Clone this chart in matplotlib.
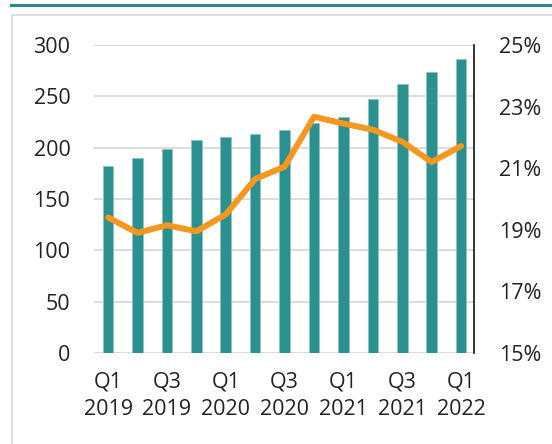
import numpy as np
import matplotlib.pyplot as plt
from matplotlib.patches import Rectangle
from matplotlib.lines import Line2D

plt.rcParams['font.family'] = ['Open Sans', 'DejaVu Sans']

quarters = ["Q1\n2019", "Q2\n2019", "Q3\n2019", "Q4\n2019",
            "Q1\n2020", "Q2\n2020", "Q3\n2020", "Q4\n2020",
            "Q1\n2021", "Q2\n2021", "Q3\n2021", "Q4\n2021",
            "Q1\n2022"]
bar_values = [182, 190, 199, 207, 210, 213, 217, 224, 230, 247, 262, 274, 286]
pct_values = [19.4, 18.9, 19.15, 18.95, 19.5, 20.65, 21.05, 22.67, 22.45, 22.25, 21.86, 21.2, 21.72]

teal = "#2a9090"
orange = "#f7971e"

fig = plt.figure(figsize=(5.52, 4.44), dpi=100)

# panel decoration
fig.add_artist(Line2D([11 / 552, 1], [1 - 5 / 444, 1 - 5 / 444], color="#2a8a8a", lw=2.2))
fig.add_artist(Rectangle((12 / 552, -0.1), 1.2, (1 - 15 / 444) + 0.1,
                         fill=False, edgecolor="#d9d9d9", lw=1.2))

ax = fig.add_axes([94 / 552, 1 - 353 / 444, 380 / 552, 308 / 444])
x = np.arange(len(bar_values))
ax.bar(x, bar_values, width=0.36, color=teal, edgecolor="#8fc4c4", linewidth=0.6, zorder=2)
ax.set_ylim(0, 300)
ax.set_yticks(np.arange(0, 301, 50))
ax.set_xlim(-0.48, 12.44)
ax.yaxis.grid(True, color="#d9d9d9", lw=1.3, zorder=0)
ax.set_axisbelow(True)
for s in ax.spines.values():
    s.set_visible(False)
ax.tick_params(axis="both", length=0, labelsize=15.5, colors="#222222")
ax.tick_params(axis="y", pad=17)
ax.tick_params(axis="x", pad=13)
ax.set_xticks(x[::2])
ax.set_xticklabels(quarters[::2], linespacing=1.45)

ax2 = ax.twinx()
ax2.plot(x, pct_values, color=orange, lw=4.3, solid_joinstyle="round", solid_capstyle="round", zorder=3)
ax2.set_ylim(15, 25)
ax2.set_yticks(np.arange(15, 26, 2))
ax2.set_yticklabels([f"{v}%" for v in range(15, 26, 2)])
for s in ax2.spines.values():
    s.set_visible(False)
ax2.spines["right"].set_visible(True)
ax2.spines["right"].set_color("#111111")
ax2.spines["right"].set_linewidth(1.2)
ax2.tick_params(axis="y", length=0, labelsize=15.5, colors="#222222", pad=18)

fig.savefig("out.png", dpi=100)
